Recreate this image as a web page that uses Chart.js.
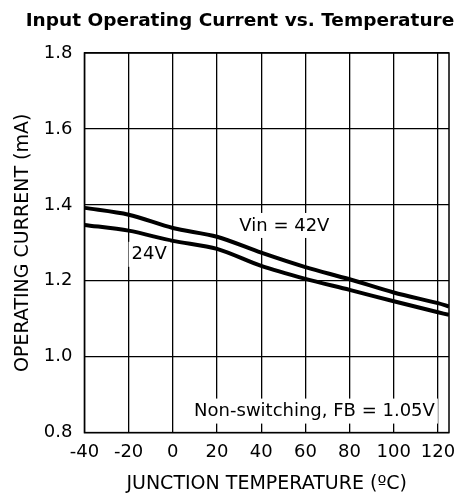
<!DOCTYPE html>
<html>
<head>
<meta charset="utf-8">
<script src="https://cdn.jsdelivr.net/npm/chart.js@4/dist/chart.umd.min.js"></script>
<style>
  html, body { margin: 0; padding: 0; background: #fff; }
  #wrap { width: 460px; height: 502px; }
</style>
</head>
<body>
<div id="wrap"><canvas id="myChart" width="460" height="502"></canvas></div>
<script>
// temperatures (deg C)
var temps = [-40, -20, 0, 20, 40, 60, 80, 100, 120, 125];
// current at Vin = 42V (mA)
var vin42 = [1.392, 1.374, 1.339, 1.316, 1.274, 1.236, 1.204, 1.169, 1.141, 1.132];
// current at Vin = 24V (mA)
var vin24 = [1.347, 1.332, 1.305, 1.284, 1.239, 1.205, 1.176, 1.146, 1.117, 1.110];

var xTicks = [-40, -20, 0, 20, 40, 60, 80, 100, 120];
var yTicks = [0.8, 1.0, 1.2, 1.4, 1.6, 1.8];

var chartTitle = "Input Operating Current vs. Temperature";

// text labels placed in data coordinates
var notes = [
  { text: "Vin = 42V", x: 50.5, y: 1.347, align: "center" },
  { text: "24V", x: -10.7, y: 1.271, align: "center" },
  { text: "Non-switching, FB = 1.05V", x: 118.6, y: 0.858, align: "right" }
];

function toPoints(xs, ys) {
  var pts = [];
  for (var i = 0; i < xs.length; i++) {
    pts.push({ x: xs[i], y: ys[i] });
  }
  return pts;
}

var fontFam = "'DejaVu Sans', Verdana, sans-serif";

// draws the title, the frame and the annotation texts
var extras = {
  id: "extras",
  afterDatasetsDraw: function(chart) {
    var ctx = chart.ctx;
    var a = chart.chartArea;
    ctx.save();
    ctx.strokeStyle = "#000";
    ctx.lineWidth = 1.5;
    ctx.strokeRect(a.left, a.top, a.right - a.left, a.bottom - a.top);

    ctx.font = "18px " + fontFam;
    ctx.textBaseline = "middle";
    for (var i = 0; i < notes.length; i++) {
      var px = chart.scales.x.getPixelForValue(notes[i].x);
      var py = chart.scales.y.getPixelForValue(notes[i].y);
      var w = ctx.measureText(notes[i].text).width;
      var left = notes[i].align == "right" ? px - w : px - w / 2;
      ctx.fillStyle = "#fff";
      ctx.fillRect(left - 3, py - 12, w + 6, 25);
      ctx.fillStyle = "#000";
      ctx.fillText(notes[i].text, left, py + 1);
    }

    // title, centred the way the original sits
    ctx.font = "bold 18.5px " + fontFam;
    ctx.textAlign = "center";
    ctx.fillStyle = "#000";
    ctx.fillText(chartTitle, 240, 21);
    ctx.restore();
  }
};

var ctx = document.getElementById("myChart");
var myChart = new Chart(ctx, {
  type: "line",
  data: {
    datasets: [
      { label: "42V", data: toPoints(temps, vin42), borderColor: "#000", borderWidth: 4, pointRadius: 0, tension: 0.3, fill: false },
      { label: "24V", data: toPoints(temps, vin24), borderColor: "#000", borderWidth: 4, pointRadius: 0, tension: 0.3, fill: false }
    ]
  },
  options: {
    responsive: false,
    animation: false,
    layout: { padding: { left: 5, right: 6, top: 53, bottom: 7 } },
    plugins: {
      legend: { display: false },
      tooltip: { enabled: false },
      title: { display: false }
    },
    scales: {
      x: {
        type: "linear",
        min: -40,
        max: 125,
        afterBuildTicks: function(scale) {
          scale.ticks = xTicks.map(function(v) { return { value: v }; });
        },
        // the 120 label does not need so much room on the right
        afterFit: function(scale) {
          scale.paddingRight = 11;
        },
        grid: { color: "#000", lineWidth: 1.3, drawTicks: false },
        border: { display: false },
        ticks: { color: "#000", font: { family: fontFam, size: 18 }, padding: 9, maxRotation: 0, autoSkip: false },
        title: {
          display: true,
          text: "JUNCTION TEMPERATURE (ºC)",
          color: "#000",
          font: { family: fontFam, size: 19 },
          padding: { top: 0, bottom: 0 }
        }
      },
      y: {
        min: 0.8,
        max: 1.8,
        afterBuildTicks: function(scale) {
          scale.ticks = yTicks.map(function(v) { return { value: v }; });
        },
        grid: { color: "#000", lineWidth: 1.3, drawTicks: false },
        border: { display: false },
        ticks: {
          color: "#000",
          font: { family: fontFam, size: 18 },
          padding: 12,
          callback: function(v) { return Number(v).toFixed(1); }
        },
        title: {
          display: true,
          text: "OPERATING CURRENT (mA)",
          color: "#000",
          font: { family: fontFam, size: 19 },
          padding: { top: 7, bottom: -3 }
        }
      }
    }
  },
  plugins: [extras]
});
</script>
</body>
</html>
